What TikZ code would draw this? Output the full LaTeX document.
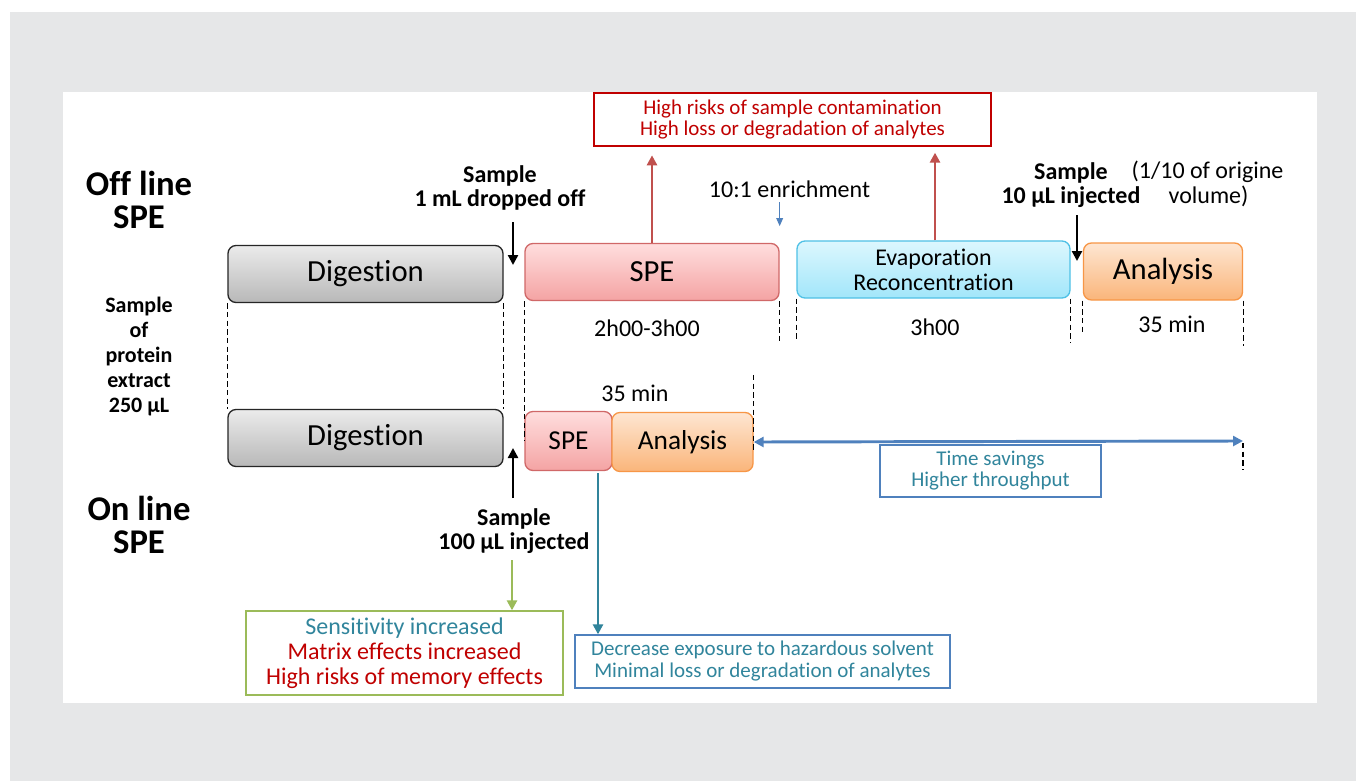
\documentclass[tikz,border=0pt]{standalone}
\usepackage{fontspec}
\setmainfont{Carlito}[Ligatures=NoCommon]
\usetikzlibrary{arrows.meta}
\definecolor{bggray}{HTML}{E6E7E8}
\definecolor{riskred}{HTML}{C00000}
\definecolor{arrred}{HTML}{C0504D}
\definecolor{tealtxt}{HTML}{31859C}
\definecolor{tealarr}{HTML}{31849B}
\definecolor{boxblue}{HTML}{4F81BD}
\definecolor{grn}{HTML}{9BBB59}
\definecolor{digtop}{HTML}{EBEBEB}
\definecolor{digbot}{HTML}{B8B8B8}
\definecolor{spetop}{HTML}{FFDEDE}
\definecolor{spebot}{HTML}{F4A3A3}
\definecolor{speline}{HTML}{D06868}
\definecolor{evtop}{HTML}{DCF7FE}
\definecolor{evbot}{HTML}{A2E6FA}
\definecolor{evline}{HTML}{4FC1E6}
\definecolor{antop}{HTML}{FEE6D2}
\definecolor{anbot}{HTML}{FAB57A}
\definecolor{anline}{HTML}{F79646}

\begin{document}
\begin{tikzpicture}[x=0.75pt,y=-0.75pt,
    stepbox/.style={draw, rounded corners=6pt, line width=1pt, inner sep=0pt,
      minimum height=42.75pt, font=\fontsize{23}{27}\selectfont},
    digbox/.style={stepbox, draw=black!85, top color=digtop, bottom color=digbot},
    spebox/.style={stepbox, draw=speline, top color=spetop, bottom color=spebot},
    evbox/.style={stepbox, draw=evline, top color=evtop, bottom color=evbot},
    anbox/.style={stepbox, draw=anline, top color=antop, bottom color=anbot},
    notebox/.style={draw, line width=1pt, inner sep=0pt, align=center},
    tlabel/.style={font=\fontsize{18}{18.75}\selectfont},
    slabel/.style={font=\bfseries\fontsize{18}{18}\selectfont, align=center},
    bigbold/.style={font=\bfseries\fontsize{26}{24.75}\selectfont, align=center},
    guide/.style={line width=0.8pt, dash pattern=on 4pt off 2.5pt},
    arr/.style={-{Triangle[length=7.5pt,width=7.5pt]}, line width=1.8pt}]
    \fill[white] (0,0) rectangle (1356,781);
    \fill[bggray] (10,12) rectangle (1356,781);
    \fill[white] (63,92) rectangle (1317,703);
    \useasboundingbox (0,0) rectangle (1356,781);

    \node[digbox, minimum width=206.25pt] (dig1) at (365.5,274) {Digestion};
    \node[spebox, minimum width=190.5pt] (spe1) at (652,272) {SPE};
    \node[evbox, minimum width=204.75pt, align=center,
      font=\fontsize{18}{18.75}\selectfont] (evap) at (933.5,269.5) {Evaporation\\Reconcentration};
    \node[anbox, minimum width=119.25pt] (ana1) at (1163,271.5) {Analysis};
    \node[digbox, minimum width=206.25pt] (dig2) at (365.5,438) {Digestion};
    \node[spebox, minimum width=65.25pt, minimum height=44.25pt,
      font=\fontsize{20.5}{24}\selectfont] (spe2) at (568.5,441) {SPE};
    \node[anbox, minimum width=105.75pt, minimum height=44.25pt,
      font=\fontsize{20.5}{24}\selectfont] (ana2) at (682.5,442) {Analysis};

    \node[notebox, draw=riskred, text=riskred, minimum width=297.75pt, minimum height=39.75pt,
      font=\fontsize{15.75}{16}\selectfont] (risk) at (792.5,119.5)
      {High risks of sample contamination\\High loss or degradation of analytes};
    \node[notebox, draw=boxblue, text=tealtxt, minimum width=165.75pt, minimum height=39pt,
      font=\fontsize{15.75}{15.75}\selectfont] (save) at (990.5,471)
      {Time savings\\Higher throughput};
    \node[notebox, draw=grn, minimum width=237.75pt, minimum height=63pt,
      font=\fontsize{18}{18.75}\selectfont] (sens) at (404.5,653)
      {\textcolor{tealtxt}{Sensitivity increased}\\\textcolor{riskred}{Matrix effects increased}\\\textcolor{riskred}{High risks of memory effects}};
    \node[notebox, draw=boxblue, text=tealtxt, minimum width=281.25pt, minimum height=39.75pt,
      font=\fontsize{15.75}{16.5}\selectfont] (decr) at (762.5,661.5)
      {Decrease exposure to hazardous solvent\\Minimal loss or degradation of analytes};

    \node[bigbold] (offl) at (139,200) {Off line\\SPE};
    \node[font=\bfseries\fontsize{16.5}{18.75}\selectfont, align=center] (extr) at (139,357)
      {Sample\\of\\protein\\extract\\250 µL};
    \node[bigbold] (onl) at (139,525) {On line\\SPE};
    \node[slabel] (drop) at (500,188) {Sample\\1 mL dropped off};
    \node[slabel] (inj10) at (1071,185) {Sample\\10 µL injected};
    \node[tlabel, align=left] (orig) at (1207.5,184) {(1/10 of origine\\\hspace*{27.75pt}volume)};
    \node[tlabel] (enrich) at (789.5,189) {10:1 enrichment};
    \node[slabel] (inj100) at (514,531) {Sample\\100 µL injected};
    \node[tlabel] (t1) at (647,328) {2h00-3h00};
    \node[tlabel] (t2) at (935,327) {3h00};
    \node[tlabel] (t3) at (1172,324) {35 min};
    \node[tlabel] (t4) at (635,393) {35 min};

    \coordinate (in1) at (513,222);
    \coordinate (in1e) at (513,265);
    \coordinate (in2) at (1077,215);
    \coordinate (in2e) at (1077,261);
    \coordinate (in3) at (513,498);
    \coordinate (in3e) at (513,448);
    \coordinate (gr) at (512,560);
    \coordinate (tl) at (598,473);
    \coordinate (tsend) at (1243,441);

    \draw[guide] (dig1.south west) -- (dig2.north west);
    \draw[guide] (dig1.south east) -- (dig2.north east);
    \draw[guide] (spe1.south west) -- (spe2.west);
    \draw[guide] (spe1.south east) -- ++(0,42);
    \draw[guide] (evap.south west) -- ++(0,42);
    \draw[guide] (evap.south east) -- ++(0,44);
    \draw[guide] (ana1.south west) -- ++(0,33);
    \draw[guide] (ana1.south east) -- ++(0,45);
    \draw[guide] (ana2.north east) ++(0,-37) -- ([yshift=-8pt]ana2.east);
    \draw[guide] (tsend) ++(0,2) -- ++(0,27);

    \draw[arr, arrred, line width=2.2pt, shorten >=6.5pt] (spe1.north) -- (spe1.north |- risk.south);
    \draw[arr, arrred, line width=2.2pt, shorten >=4.5pt] (evap.north -| t2) -- (t2 |- risk.south);
    \draw[-{Triangle[length=6pt,width=5pt]}, boxblue, line width=0.9pt] (enrich.south -| spe1.east) -- ++(0,24);
    \draw[arr] (in1) -- (in1e);
    \draw[arr] (in2) -- (in2e);
    \draw[arr] (in3) -- (in3e);
    \draw[arr, grn, line width=2.2pt] (gr) -- (gr |- sens.north);
    \draw[arr, tealarr, line width=2.2pt] (tl) -- (tl |- decr.north);
    \draw[{Triangle[length=7.5pt,width=7.5pt]}-{Triangle[length=7.5pt,width=7.5pt]}, boxblue, line width=2.2pt]
      (ana2.east) -- (tsend);
  \end{tikzpicture}
\end{document}
